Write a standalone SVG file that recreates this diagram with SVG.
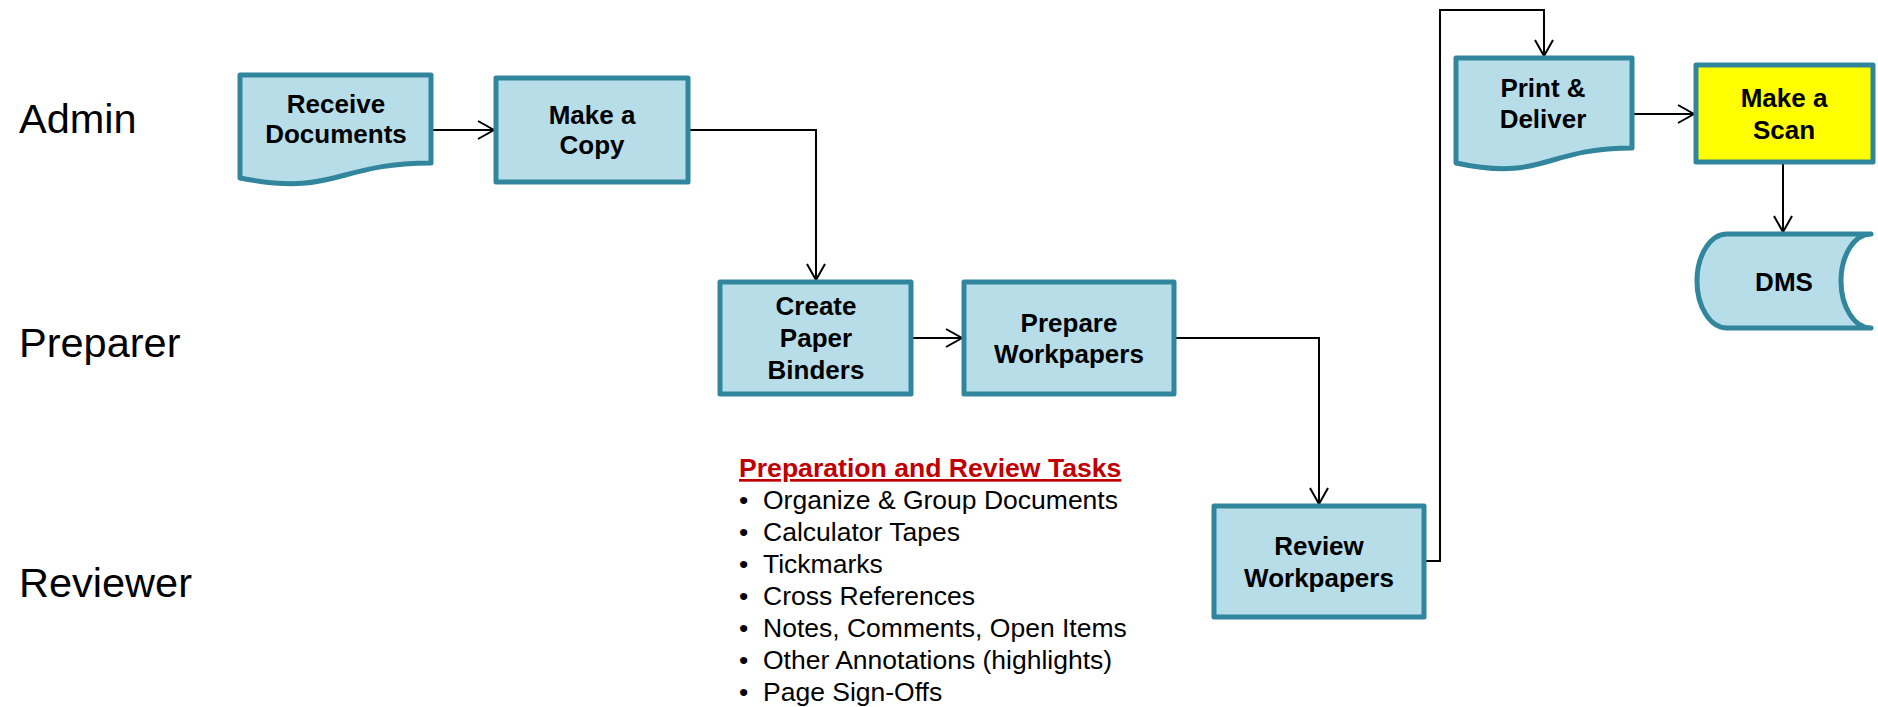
<svg xmlns="http://www.w3.org/2000/svg" width="1878" height="707" viewBox="0 0 1878 707">
<style>
.shape{fill:#B7DEE8;stroke:#31859C;stroke-width:5;stroke-linejoin:round}
.scan{fill:#FFFF00;stroke:#31859C;stroke-width:5;stroke-linejoin:round}
.lbl{font-family:"Liberation Sans",Arial,sans-serif;font-weight:bold;font-size:26px;fill:#000;text-anchor:middle}
.lane{font-family:"Liberation Sans",Arial,sans-serif;font-size:41.5px;fill:#000}
.item{font-family:"Liberation Sans",Arial,sans-serif;font-size:26.5px;fill:#000}
.title{font-family:"Liberation Sans",Arial,sans-serif;font-weight:bold;font-size:26.6px;fill:#C00000;text-decoration:underline}
.conn{fill:none;stroke:#000;stroke-width:2}
</style>
<defs>
<marker id="arr" markerUnits="userSpaceOnUse" viewBox="-19 -12 22 24" refX="0" refY="0" markerWidth="22" markerHeight="24" orient="auto">
<path d="M-16,-9 L0,0 L-16,9" fill="none" stroke="#000" stroke-width="2"/>
</marker>
</defs>
<rect width="1878" height="707" fill="#fff"/>
<g id="lanes">
<text class="lane" x="19" y="133">Admin</text>
<text class="lane" x="19" y="357">Preparer</text>
<text class="lane" x="19" y="597">Reviewer</text>
</g>
<g id="connectors">
<path class="conn" d="M433,130 H494" marker-end="url(#arr)"/>
<path class="conn" d="M690,130 H816 V280" marker-end="url(#arr)"/>
<path class="conn" d="M913,338 H962" marker-end="url(#arr)"/>
<path class="conn" d="M1176,338 H1319 V504" marker-end="url(#arr)"/>
<path class="conn" d="M1426,561 H1440 V10 H1544 V56" marker-end="url(#arr)"/>
<path class="conn" d="M1634,114 H1694" marker-end="url(#arr)"/>
<path class="conn" d="M1783,164 V232" marker-end="url(#arr)"/>
</g>
<g id="receive-documents">
<path class="shape" d="M240,75 H431 V163 C335.5,163 335.5,197 240,178 Z"/>
<text class="lbl" x="336" y="113">Receive</text>
<text class="lbl" x="336" y="143">Documents</text>
</g>
<g id="make-a-copy">
<rect class="shape" x="496" y="78" width="192" height="104"/>
<text class="lbl" x="592" y="124">Make a</text>
<text class="lbl" x="592" y="154">Copy</text>
</g>
<g id="create-paper-binders">
<rect class="shape" x="720" y="282" width="191" height="112"/>
<text class="lbl" x="816" y="315">Create</text>
<text class="lbl" x="816" y="347">Paper</text>
<text class="lbl" x="816" y="379">Binders</text>
</g>
<g id="prepare-workpapers">
<rect class="shape" x="964" y="282" width="210" height="112"/>
<text class="lbl" x="1069" y="332">Prepare</text>
<text class="lbl" x="1069" y="363">Workpapers</text>
</g>
<g id="review-workpapers">
<rect class="shape" x="1214" y="506" width="210" height="111"/>
<text class="lbl" x="1319" y="555">Review</text>
<text class="lbl" x="1319" y="587">Workpapers</text>
</g>
<g id="print-deliver">
<path class="shape" d="M1456,58 H1632 V148 C1544,148 1544,182 1456,163 Z"/>
<text class="lbl" x="1543" y="97">Print &amp;</text>
<text class="lbl" x="1543" y="128">Deliver</text>
</g>
<g id="make-a-scan">
<rect class="scan" x="1696" y="65" width="177" height="97"/>
<text class="lbl" x="1784" y="107">Make a</text>
<text class="lbl" x="1784" y="139">Scan</text>
</g>
<g id="dms">
<path class="shape" stroke-linecap="round" d="M1871,234 H1727 A30,47 0 0 0 1727,328 H1871 A30,47 0 0 1 1871,234 Z"/>
<text class="lbl" x="1784" y="291">DMS</text>
</g>
<g id="tasks">
<text class="title" x="739" y="477">Preparation and Review Tasks</text>
<g class="item">
<text x="739" y="509">•</text><text x="763" y="509">Organize &amp; Group Documents</text>
<text x="739" y="541">•</text><text x="763" y="541">Calculator Tapes</text>
<text x="739" y="573">•</text><text x="763" y="573">Tickmarks</text>
<text x="739" y="605">•</text><text x="763" y="605">Cross References</text>
<text x="739" y="637">•</text><text x="763" y="637">Notes, Comments, Open Items</text>
<text x="739" y="669">•</text><text x="763" y="669">Other Annotations (highlights)</text>
<text x="739" y="701">•</text><text x="763" y="701">Page Sign-Offs</text>
</g>
</g>
</svg>
